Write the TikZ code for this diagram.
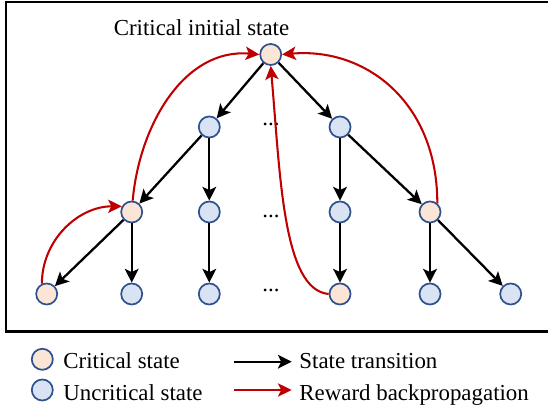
\documentclass[tikz,border=0pt]{standalone}
\usepackage{fontspec}
\setmainfont{Liberation Serif}
\usetikzlibrary{arrows.meta}
\definecolor{critfill}{HTML}{FBE5D6}
\definecolor{uncritfill}{HTML}{DAE3F3}
\definecolor{stateline}{HTML}{2F528F}
\definecolor{backred}{HTML}{C00000}

\begin{document}
\begin{tikzpicture}[x=0.437pt,y=0.437pt,
		state/.style={circle,draw=stateline,line width=0.75pt,minimum size=9.2pt,inner sep=0pt},
		crit/.style={state,fill=critfill},
		uncrit/.style={state,fill=uncritfill},
		trans/.style={-{Stealth[length=6pt,width=6pt,inset=1.4pt]},line width=1pt},
		back/.style={-{Stealth[length=6pt,width=5.8pt,inset=1.4pt]},line width=0.9pt,draw=backred},
		txt/.style={inner sep=0pt,font=\fontsize{10pt}{12pt}\selectfont}]
		\useasboundingbox (0,0) rectangle (548,-411);
		\draw[line width=0.9pt] (6,-2) rectangle (552,-331.5);
		\node[crit] (root) at (270.7,-54.5) {};
		\node[txt,anchor=base] (title) at (201.5,-36) {Critical initial state};
		\node[uncrit] (a1) at (209.3,-127) {};
		\node[uncrit] (a2) at (340,-127) {};
		\node[crit] (b1) at (131.7,-212) {};
		\node[uncrit] (b2) at (209.3,-212) {};
		\node[uncrit] (b3) at (340,-212) {};
		\node[crit] (b4) at (430,-212) {};
		\node[crit] (c1) at (46.7,-294) {};
		\node[uncrit] (c2) at (131.7,-294) {};
		\node[uncrit] (c3) at (209.3,-294) {};
		\node[crit] (c4) at (340,-294) {};
		\node[uncrit] (c5) at (430,-294) {};
		\node[uncrit] (c6) at (510.7,-294) {};
		\node[txt,anchor=base] (dotsa) at (271,-125.5) {...};
		\node[txt,anchor=base] (dotsb) at (271,-217.5) {...};
		\node[txt,anchor=base] (dotsc) at (271,-291.5) {...};
		\draw[trans] (root) -- (a1);
		\draw[trans] (root) -- (a2);
		\draw[trans] (a1) -- (b1);
		\draw[trans] (a1) -- (b2);
		\draw[trans] (a2) -- (b3);
		\draw[trans] (a2) -- (b4);
		\draw[trans] (b1) -- (c1);
		\draw[trans] (b1) -- (c2);
		\draw[trans] (b2) -- (c3);
		\draw[trans] (b3) -- (c4);
		\draw[trans] (b4) -- (c5);
		\draw[trans] (b4) -- (c6);
		\draw[back] (c1.115) to[out=90,in=180] (b1.150);
		\draw[back] (b1.85) to[out=85,in=175] (root.west);
		\draw[back] (b4.50) to[out=90,in=5,out looseness=1.2] (root.east);
		\draw[back] (c4.west) to[out=175,in=-85,out looseness=0.5,in looseness=1.2] (root.south);
		\node[crit] (keycrit) at (42.3,-359.3) {};
		\node[txt,anchor=base west] (keycrittext) at (63,-368.3) {Critical state};
		\node[uncrit] (keyuncrit) at (42.3,-390) {};
		\node[txt,anchor=base west] (keyuncrittext) at (63,-401) {Uncritical state};
		\coordinate (keytransa) at (234,-361.7);
		\coordinate (keytransb) at (291.7,-361.7);
		\draw[trans] (keytransa) -- (keytransb);
		\node[txt,anchor=base west] (keytranstext) at (299,-368.3) {State transition};
		\coordinate (keybacka) at (234,-390);
		\coordinate (keybackb) at (291.7,-390);
		\draw[back] (keybacka) -- (keybackb);
		\node[txt,anchor=base west] (keybacktext) at (299,-401) {Reward backpropagation};
	% search tree
	\end{tikzpicture}
\end{document}
